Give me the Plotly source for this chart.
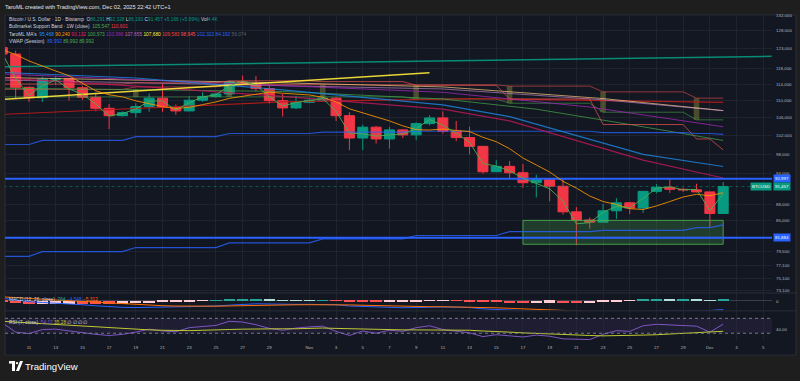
import math
import pandas as pd
import plotly.graph_objects as go

# ---------------- data ----------------
dates = pd.date_range("2025-10-09", "2025-12-02", freq="D")

opens = [123300,121600,113200,110700,115200,115300,113100,110800,108200,106500,
         107200,108600,110600,108400,107600,110100,111000,111600,114500,114100,
         112900,110000,108300,109600,110100,110600,106500,101500,103900,101300,
         103300,102200,104700,106000,103000,101600,99700,94400,95500,94200,
         92200,92900,91500,86600,85100,84700,86800,88300,87300,90500,
         91300,90900,90800,90400,86291]
highs = [123800,122500,113400,115800,116000,115400,113600,111900,109200,107500,
         109400,111700,114000,109100,111000,112000,111900,114900,116100,116000,
         113600,111600,111100,110500,111200,110800,107300,104500,104200,104000,
         103400,105000,106600,107500,105300,104000,99800,96800,96600,96000,
         93800,92900,93100,87500,85600,88100,89200,88500,90600,91900,
         93100,91200,92000,90400,92328]
lows = [119800,110500,109700,109700,113800,110000,110200,107500,103500,106300,
        106100,107400,107400,106700,107500,109700,110700,111300,113900,112200,
        109300,106300,108000,109400,109700,105300,98900,98900,100300,99200,
        101500,101000,104300,102500,100800,98000,94000,94400,92900,91200,
        89300,88600,86100,80600,83500,84700,85300,86200,86400,90100,
        90200,90400,90300,83800,86190]
closes = [121600,113200,110700,115200,115300,113100,110800,108200,106500,107200,
          108600,110600,108400,107600,110100,111000,111600,114500,114100,112900,
          110000,108300,109600,110100,110600,106500,101500,103900,101300,103300,
          102200,104700,106000,103000,101600,99700,94400,95500,94200,92200,
          92900,91500,86600,85100,84700,86800,88300,87300,90500,91300,
          90900,90800,90400,86300,91457]

sma7 = [122770,121470,119800,118610,117260,116060,114270,112360,111400,110900,
        109960,109290,108610,108160,108430,109070,109700,110540,111040,111690,
        112030,111770,111570,111360,110800,109710,108090,107210,106210,105310,
        104190,103340,103270,103490,103160,102930,101660,100700,99200,97230,
        95790,94340,92470,91140,89600,88540,87990,87190,87040,87710,
        88540,89410,89930,89640,90240]
vwap = [121730,115400,111270,113570,115030,112830,111530,109200,106400,107000,
        108030,109900,109930,107800,109530,110900,111400,113570,114700,113700,
        110970,108730,109570,110000,110500,107530,102570,102430,101930,102170,
        102370,103570,105630,104330,102570,100570,96070,95570,94570,93130,
        92000,91000,88600,84400,84600,86530,87600,87330,89170,91100,
        91400,90800,90900,86830,89992]

ma_w_blue = [78700,78700,78700,
             79500,79500,79500,79500,79500,79500,79500,
             80200,80200,80200,80200,80200,80200,80200,
             81000,81000,81000,81000,81000,81000,81000,
             81700,81700,81700,81700,81700,81700,81700,
             82300,82300,82300,82300,82300,82300,82300,
             83000,83000,83000,83000,83000,83000,83000,
             83200,83200,83200,83200,83200,83200,83200,
             83700,83700,84192]
ma_d_blue = [100100,100100,100100,
             101000,101000,101000,101000,101000,101000,101000,
             101800,101800,101800,101800,101800,101800,101800,
             102500,102500,102500,102500,102500,102500,102500,
             102800,102800,102800,102800,102800,102800,102800,
             103000,103000,103000,103000,103000,103000,103000,
             103000,103000,103000,103000,103000,103000,103000,
             102700,102700,102700,102700,102700,102700,102700,
             102500,102500,102322]
ma_red_w = [114000,114000,114000,
            114000,114000,114000,114000,114000,114000,114000,
            114300,114300,114300,114300,114300,114300,114300,
            114800,114800,114800,114800,114800,114800,114800,
            114600,114600,114600,114600,114600,114600,114600,
            113700,113700,113700,113700,113700,113700,113700,
            110400,110400,110400,110400,110400,110400,110400,
            104500,104500,104500,104500,104500,104500,104500,
            101300,101300,98945]
band_upper = [112700,112700,112700,
              112700,112700,112700,112700,112700,112700,112700,
              113300,113300,113300,113300,113300,113300,113300,
              113900,113900,113900,113900,113900,113900,113900,
              113900,113900,113900,113900,113900,113900,113900,
              113800,113800,113800,113800,113800,113800,113800,
              113500,113500,113500,113500,113500,113500,113500,
              112100,112100,112100,112100,112100,112100,112100,
              110601,110601,110601]
band_lower = [110900,110900,110900,
              110900,110900,110900,110900,110900,110900,110900,
              111000,111000,111000,111000,111000,111000,111000,
              110900,110900,110900,110900,110900,110900,110900,
              110900,110900,110900,110900,110900,110900,110900,
              110400,110400,110400,110400,110400,110400,110400,
              109400,109400,109400,109400,109400,109400,109400,
              107300,107300,107300,107300,107300,107300,107300,
              105547,105547,105547]
band_box_dates = ["2025-10-19","2025-10-26","2025-11-02","2025-11-09","2025-11-16","2025-11-23","2025-11-30"]
band_box_lo = [110900,110900,110900,110400,109400,107300,105547]
band_box_hi = [112700,113500,113900,113800,113500,112100,110601]

# smooth moving averages: key points
ma_blue_d = ["2025-10-09","2025-10-19","2025-10-30","2025-11-11","2025-11-16","2025-11-21","2025-11-26","2025-12-02"]
ma_blue_v = [116900,115500,112600,109000,106300,102000,98000,95468]
ma_pink_d = ["2025-10-09","2025-10-19","2025-10-30","2025-11-11","2025-11-16","2025-11-21","2025-11-26","2025-12-02"]
ma_pink_v = [115500,113500,111000,108000,105300,101000,96800,93132]
ma_green_d = ["2025-10-09","2025-10-30","2025-11-11","2025-11-18","2025-11-25","2025-12-02"]
ma_green_v = [113000,112200,110400,108000,104500,100973]
ma_purple_d = ["2025-10-09","2025-10-30","2025-11-11","2025-11-22","2025-12-02"]
ma_purple_v = [116500,113700,112000,108500,103998]
ma_violet_d = ["2025-10-09","2025-10-30","2025-11-11","2025-11-23","2025-12-02"]
ma_violet_v = [115000,113500,112800,110200,107655]
ma_yellow_d = ["2025-10-09","2025-10-30","2025-11-11","2025-11-23","2025-12-02"]
ma_yellow_v = [115600,114300,113300,110500,107680]
ma_red200_d = ["2025-10-09","2025-10-30","2025-11-13","2025-12-02"]
ma_red200_v = [106800,109700,110500,109583]

# drawings
teal_line_d = ["2025-10-09", "2025-12-05 15:00"]
teal_line_v = [118300, 121000]
yellow_line_d = ["2025-10-09", "2025-11-10"]
yellow_line_v = [110300, 116800]
hlevel_1 = 92997
hlevel_2 = 81884
last_close = 91457
zone_d = ["2025-11-17", "2025-12-02"]
zone_v = [80760, 85030]

# MACD (12, 26, close)
macd_line = [1500,600,-400,-800,-1100,-1500,-2000,-2600,-3100,-3400,
             -3500,-3400,-3400,-3400,-3200,-2900,-2600,-2100,-1700,-1500,
             -1600,-1800,-1800,-1800,-1700,-2000,-2700,-3000,-3400,-3500,
             -3600,-3500,-3200,-3200,-3300,-3500,-4200,-4600,-5000,-5400,
             -5600,-5800,-6300,-6800,-7100,-7000,-6700,-6400,-5800,-5200,
             -5100,-4900,-4800,-5100,-4548]
macd_signal = [2200,1900,1400,950,540,130,-300,-760,-1230,-1660,
               -2030,-2300,-2520,-2700,-2800,-2820,-2780,-2640,-2450,-2260,
               -2130,-2070,-2020,-1980,-1920,-1940,-2090,-2270,-2500,-2700,
               -2880,-3000,-3040,-3070,-3110,-3190,-3390,-3630,-3910,-4200,
               -4480,-4740,-5050,-5400,-5740,-5990,-6130,-6180,-6100,-5920,
               -5760,-5590,-5430,-5370,-5312]
macd_hist = [-700,-1300,-1800,-1750,-1640,-1630,-1700,-1840,-1870,-1740,
             -1470,-1100,-880,-700,-400,-80,180,540,750,760,
             530,270,220,180,220,-60,-610,-730,-900,-800,
             -720,-500,-160,-130,-190,-310,-810,-970,-1090,-1200,
             -1120,-1060,-1250,-1400,-1360,-1010,-570,-220,300,720,
             660,690,630,270,764]

# RSI (7, close)
rsi = [58,33,29,40,41,36,31,27,24,27,
       33,41,36,34,45,49,51,62,60,53,
       43,38,44,47,49,35,24,36,30,38,
       35,45,50,40,36,31,21,26,23,20,
       25,22,15,13,13,27,37,35,50,54,
       52,51,49,33,54.17]
rsi_ma = [62,60,58,56,54,52,50,47,44,42,
          40,39,38,37,37,38,38,40,41,42,
          42,42,42,43,44,43,42,41,40,40,
          39,39,39,39,38,38,36,35,33,31,
          30,29,27,25,24,23,23,24,25,26,
          28,30,32,33,35.28]

price_ticks = [132000,128000,123000,118000,114000,110000,106000,102000,98000,94000,88000,85000,79500,77100,75100,73100]
time_tick_dates = ["2025-10-11","2025-10-13","2025-10-15","2025-10-17","2025-10-19","2025-10-21","2025-10-23",
                   "2025-10-25","2025-10-27","2025-10-29","2025-11-01","2025-11-03","2025-11-05","2025-11-07",
                   "2025-11-09","2025-11-11","2025-11-13","2025-11-15","2025-11-17","2025-11-19","2025-11-21",
                   "2025-11-23","2025-11-25","2025-11-27","2025-11-29","2025-12-01","2025-12-03","2025-12-05"]
time_tick_text = ["11","13","15","17","19","21","23","25","27","29","Nov","3","5","7","9","11","13","15",
                  "17","19","21","23","25","27","29","Dec","3","5"]

# ---------------- style ----------------
W, H = 800, 381
def px(x): return x / W
def py(y): return 1 - y / H

BG_OUT = "#1e1e1e"
BG = "#131722"
GRID = "rgba(42,46,57,0.55)"
TXT = "#d1d4dc"
AX = "#b2b5be"
UP = "#089981"
DN = "#f23645"
FONT = "Liberation Sans"

X0, X1 = px(5), px(772)
XR = ["2025-10-09 04:51", "2025-12-05 15:43"]
XEXT = ["2025-10-01", "2025-12-12"]

fig = go.Figure()

# band boxes
half = pd.Timedelta(hours=5)
for d, lo, hi in zip(band_box_dates, band_box_lo, band_box_hi):
    t = pd.Timestamp(d)
    fig.add_trace(go.Scatter(x=[t - half, t + half, t + half, t - half, t - half],
                             y=[lo, lo, hi, hi, lo], mode="lines", fill="toself",
                             fillcolor="rgba(160,160,60,0.38)", line=dict(width=0),
                             xaxis="x", yaxis="y", hoverinfo="skip"))

# zone box
fig.add_trace(go.Scatter(x=[zone_d[0], zone_d[1], zone_d[1], zone_d[0], zone_d[0]],
                         y=[zone_v[0], zone_v[0], zone_v[1], zone_v[1], zone_v[0]],
                         mode="lines", fill="toself", fillcolor="rgba(76,175,80,0.25)",
                         line=dict(color="rgba(76,175,80,0.85)", width=1), xaxis="x", yaxis="y"))

def ln(x, y, color, width=1.0, opacity=0.75, dash=None):
    fig.add_trace(go.Scatter(x=x, y=y, mode="lines", opacity=opacity,
                             line=dict(color=color, width=width, dash=dash),
                             xaxis="x", yaxis="y", hoverinfo="skip"))

# moving averages
ln(dates, band_lower, "#4caf50", 1, 0.55)
ln(dates, band_upper, "#ff5252", 1, 0.55)
ln(ma_red200_d, ma_red200_v, "#b71c1c", 1.2, 0.9)
ln(ma_yellow_d, ma_yellow_v, "#ffcc80", 1, 0.7)
ln(ma_violet_d, ma_violet_v, "#ce93d8", 1, 0.6)
ln(ma_purple_d, ma_purple_v, "#9c27b0", 1, 0.8)
ln(ma_green_d, ma_green_v, "#43a047", 1, 0.75)
ln(dates, ma_red_w, "#ef5350", 1, 0.7)
ln(dates, ma_d_blue, "#2962ff", 1.2, 0.75)
ln(ma_blue_d, ma_blue_v, "#1e88e5", 1.2, 0.8)
ln(ma_pink_d, ma_pink_v, "#c2185b", 1.2, 0.8)
ln(dates, ma_w_blue, "#2962ff", 1.2, 0.8)

# drawings
ln(teal_line_d, teal_line_v, "#089981", 1.5, 0.9)
ln(yellow_line_d, yellow_line_v, "#ffeb3b", 1.5, 0.9)
ln(XEXT, [last_close, last_close], "#089981", 1, 0.5, "dot")
ln(XEXT, [hlevel_1, hlevel_1], "#2962ff", 2, 1)
ln(XEXT, [hlevel_2, hlevel_2], "#2962ff", 2, 1)

# candles
fig.add_trace(go.Candlestick(x=dates, open=opens, high=highs, low=lows, close=closes,
                             increasing=dict(line=dict(color=UP, width=1), fillcolor=UP),
                             decreasing=dict(line=dict(color=DN, width=1), fillcolor=DN),
                             whiskerwidth=0, xaxis="x", yaxis="y", hoverinfo="skip"))

ln(dates, sma7, "#ff9800", 1, 0.85)
ln(dates, vwap, "#4caf50", 1, 0.9)

# MACD pane
hist_colors = []
prev = None
for v in macd_hist:
    if v >= 0:
        c = "#26a69a" if (prev is None or v >= prev) else "#b2dfdb"
    else:
        c = "#ffcdd2" if (prev is not None and v > prev) else "#ff5252"
    hist_colors.append(c)
    prev = v
fig.add_trace(go.Bar(x=dates, y=macd_hist, marker=dict(color=hist_colors, line=dict(width=0)),
                     width=0.85 * 86400000, xaxis="x2", yaxis="y2", hoverinfo="skip"))
fig.add_trace(go.Scatter(x=dates, y=macd_line, mode="lines", line=dict(color="#2962ff", width=1),
                         xaxis="x2", yaxis="y2", hoverinfo="skip"))
fig.add_trace(go.Scatter(x=dates, y=macd_signal, mode="lines", line=dict(color="#ff6d00", width=1),
                         xaxis="x2", yaxis="y2", hoverinfo="skip"))

# RSI pane
fig.add_trace(go.Scatter(x=dates, y=rsi, mode="lines", line=dict(color="#7e57c2", width=1),
                         xaxis="x3", yaxis="y3", hoverinfo="skip"))
fig.add_trace(go.Scatter(x=dates, y=rsi_ma, mode="lines", line=dict(color="#c0ca33", width=1),
                         xaxis="x3", yaxis="y3", hoverinfo="skip"))

tickfont = dict(family=FONT, size=4.4, color=AX)
common_x = dict(type="date", range=XR, showgrid=True, gridcolor=GRID, gridwidth=1,
                zeroline=False, showline=False, ticks="", tickvals=time_tick_dates,
                rangeslider=dict(visible=False))

shapes = [
    dict(type="rect", xref="paper", yref="paper", x0=px(5), x1=px(796), y0=py(356), y1=py(14),
         fillcolor=BG, line=dict(color="#2a2e39", width=1), layer="below"),
    dict(type="line", xref="paper", yref="paper", x0=px(5), x1=px(796), y0=py(293.5), y1=py(293.5),
         line=dict(color="#2a2e39", width=1)),
    dict(type="line", xref="paper", yref="paper", x0=px(5), x1=px(796), y0=py(311.5), y1=py(311.5),
         line=dict(color="#2a2e39", width=1)),
    dict(type="rect", xref="paper", yref="y3", x0=X0, x1=X1, y0=30, y1=70,
         fillcolor="rgba(126,87,194,0.10)", line=dict(width=0), layer="below"),
    dict(type="line", xref="paper", yref="y3", x0=X0, x1=X1, y0=70, y1=70,
         line=dict(color="#787b86", width=1, dash="dot")),
    dict(type="line", xref="paper", yref="y3", x0=X0, x1=X1, y0=30, y1=30,
         line=dict(color="#787b86", width=1, dash="dot")),
    # TradingView logo glyph
    dict(type="rect", xref="paper", yref="paper", x0=px(9), x1=px(15), y0=py(364.5), y1=py(362),
         fillcolor="#ffffff", line=dict(width=0)),
    dict(type="rect", xref="paper", yref="paper", x0=px(12), x1=px(15), y0=py(372), y1=py(362),
         fillcolor="#ffffff", line=dict(width=0)),
    dict(type="circle", xref="paper", yref="paper", x0=px(15.8), x1=px(18.2), y0=py(365.2), y1=py(362.8),
         fillcolor="#ffffff", line=dict(width=0)),
    dict(type="path", xref="paper", yref="paper",
         path=f"M {px(16)} {py(372)} L {px(20)} {py(362)} L {px(23)} {py(362)} L {px(19)} {py(372)} Z",
         fillcolor="#ffffff", line=dict(width=0)),
]

G = "#089981"
R = "#f23645"
def sp(c, t): return f'<span style="color:{c}">{t}</span>'
nb = "\u00a0"
leg2 = ("Bitcoin / U.S. Dollar · 1D · Bitstamp" + nb*2 + "O" + sp(G, "86,291") + nb + "H" + sp(G, "92,328") + nb +
        "L" + sp(G, "86,190") + nb + "C" + sp(G, "91,457") + nb + sp(G, "+5,166 (+5.99%)") + nb + "Vol" + sp(G, "4.4K"))
leg3 = "Bullmarket Support Band · 1W (close)" + nb*2 + sp("#4caf50", "105,547") + nb + sp(R, "110,601")
ma_cols = ["#2196f3","#ff9800","#e91e63","#4caf50","#9c27b0","#ba68c8","#ffeb3b","#f44336","#ff5252","#2962ff","#2962ff","#5d606b"]
ma_vals = ["95,468","90,240","93,132","100,973","103,998","107,655","107,680","109,583","98,945","102,322","84,192","56,074"]
leg4 = "TaroML MA's" + nb*2 + nb.join(sp(c, v) for c, v in zip(ma_cols, ma_vals))
leg5 = "VWAP (Session)" + nb*2 + sp("#2962ff", "89,992") + nb + sp("#4caf50", "89,992") + nb + sp("#4caf50", "89,992")
leg_macd = "MACD (12, 26, close)" + nb*2 + sp("#26a69a", "764") + nb + sp("#2962ff", "−4,548") + nb + sp("#ff6d00", "−5,312")
leg_rsi = "RSI (7, close)" + nb*2 + sp("#7e57c2", "54.17") + nb + sp("#c0ca33", "35.28") + nb + "∅" + nb + "∅" + nb + "∅" + nb + "∅"

lf = dict(family=FONT, size=4.8, color=TXT)
def ann(text, x, y, font, **kw):
    d = dict(text=text, xref="paper", yref="paper", x=px(x), y=py(y), xanchor="left",
             yanchor="middle", showarrow=False, font=font)
    d.update(kw)
    return d

annotations = [
    ann("TaroML created with TradingView.com, Dec 02, 2025 22:42 UTC+1", 3, 6,
        dict(family=FONT, size=5.6, color="#e0e3eb")),
    ann(leg2, 7, 18.5, lf),
    ann(leg3, 7, 26, lf),
    ann(leg4, 7, 33.5, lf),
    ann(leg5, 7, 41, lf),
    ann(leg_macd, 7, 300.5, lf),
    ann(leg_rsi, 7, 323, lf),
    ann("TradingView", 23, 367.5, dict(family=FONT, size=9.6, color="#ffffff")),
]

def price_label(val, text, bg, x=773, anchor="left"):
    return dict(text=text, xref="paper", yref="y", x=px(x), y=math.log10(val), xanchor=anchor,
                yanchor="middle", showarrow=False, bgcolor=bg, borderpad=1,
                font=dict(family=FONT, size=4.4, color="#ffffff"))

annotations += [
    price_label(hlevel_1, "92,997", "#2962ff"),
    price_label(last_close, "91,457", G),
    price_label(last_close, "BTCUSD", G, x=771.5, anchor="right"),
    price_label(hlevel_2, "81,884", "#2962ff"),
]

fig.update_layout(
    width=W, height=H, margin=dict(l=0, r=0, t=0, b=0),
    paper_bgcolor=BG_OUT, plot_bgcolor=BG, showlegend=False,
    bargap=0, hovermode=False, boxgap=0.25, boxgroupgap=0,
    xaxis=dict(common_x, domain=[X0, X1], anchor="y", showticklabels=False),
    xaxis2=dict(common_x, domain=[X0, X1], anchor="y2", matches="x", showticklabels=False),
    xaxis3=dict(common_x, domain=[X0, X1], anchor="y3", matches="x", showticklabels=True,
                ticktext=time_tick_text, tickfont=tickfont, ticklabelstandoff=3),
    yaxis=dict(domain=[py(293), py(14)], type="log", range=[math.log10(72810), math.log10(132280)],
               side="right", tickvals=price_ticks, tickformat=",.0f", tickfont=tickfont,
               showgrid=True, gridcolor=GRID, zeroline=False, ticks="", anchor="x", ticklabelstandoff=3),
    yaxis2=dict(domain=[py(311), py(294)], range=[-5000, 4000], side="right", tickvals=[0],
                ticktext=["0"], tickfont=tickfont, showgrid=False, zeroline=True,
                zerolinecolor="rgba(120,123,134,0.4)", zerolinewidth=1, ticks="", anchor="x2", ticklabelstandoff=3),
    yaxis3=dict(domain=[py(341), py(312)], range=[11.3, 88.7], side="right", tickvals=[40],
                ticktext=["40.00"], tickfont=tickfont, showgrid=False, zeroline=False, ticks="",
                anchor="x3", ticklabelstandoff=3),
    shapes=shapes, annotations=annotations,
)

fig.write_html("out.html", config={"displayModeBar": False},
               post_script="document.body.style.margin='0';document.body.style.background='#1e1e1e';")
